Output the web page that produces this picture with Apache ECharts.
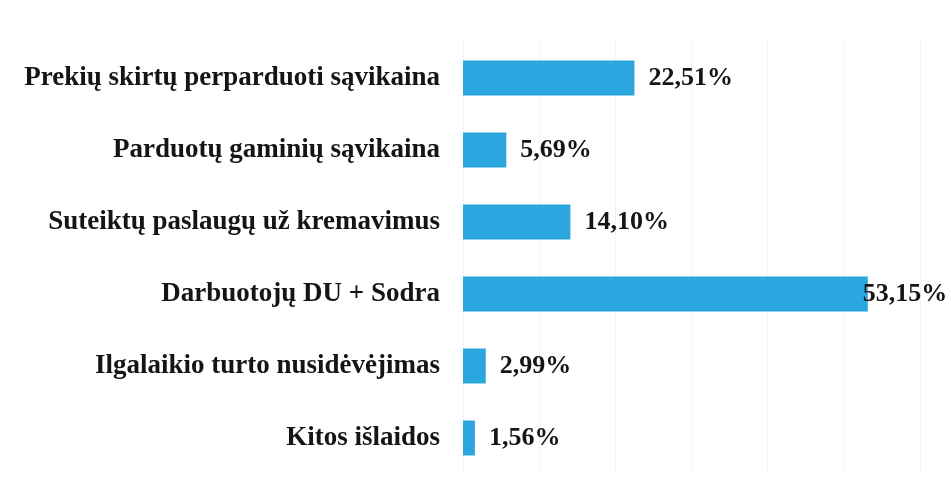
<!DOCTYPE html>
<html>
<head>
<meta charset="utf-8">
<script src="https://cdn.jsdelivr.net/npm/echarts@6/dist/echarts.min.js"></script>
<style>html,body{margin:0;padding:0;background:#fff}#c{width:951px;height:496px}</style>
</head>
<body>
<div id="c"></div>
<script>
const categories = [
  'Prekių skirtų perparduoti sąvikaina',
  'Parduotų gaminių sąvikaina',
  'Suteiktų paslaugų už kremavimus',
  'Darbuotojų DU + Sodra',
  'Ilgalaikio turto nusidėvėjimas',
  'Kitos išlaidos'
];
const values = [22.51, 5.69, 14.10, 53.15, 2.99, 1.56];
const xTicks = [0, 10, 20, 30, 40, 50, 60];

const maxVal = Math.max(...values);
const fmt = v => v.toFixed(2).replace('.', ',') + '%';

const chart = echarts.init(document.getElementById('c'));
chart.setOption({
  animation: false,
  grid: { left: 463, right: 31, top: 42, bottom: 22, containLabel: false },
  xAxis: {
    type: 'value', min: xTicks[0], max: xTicks[xTicks.length - 1], interval: 10,
    axisLabel: { show: false }, axisLine: { show: false }, axisTick: { show: false },
    splitLine: { show: true, lineStyle: { color: '#f3f3f3', width: 1 } }
  },
  yAxis: {
    type: 'category', data: categories, inverse: true,
    axisLine: { show: false }, axisTick: { show: false },
    axisLabel: {
      margin: 23, color: '#151515', fontFamily: 'Liberation Serif', fontWeight: 'bold', fontSize: 27
    }
  },
  series: [{
    type: 'bar',
    barWidth: 35,
    itemStyle: { color: '#2ba6df' },
    data: values.map(v => v === maxVal
      ? { value: v, label: { distance: -5 } }
      : { value: v }),
    label: {
      show: true, position: 'right', distance: 14,
      color: '#151515', fontFamily: 'Liberation Serif', fontWeight: 'bold', fontSize: 26,
      formatter: p => fmt(p.value)
    }
  }]
});
</script>
</body>
</html>
